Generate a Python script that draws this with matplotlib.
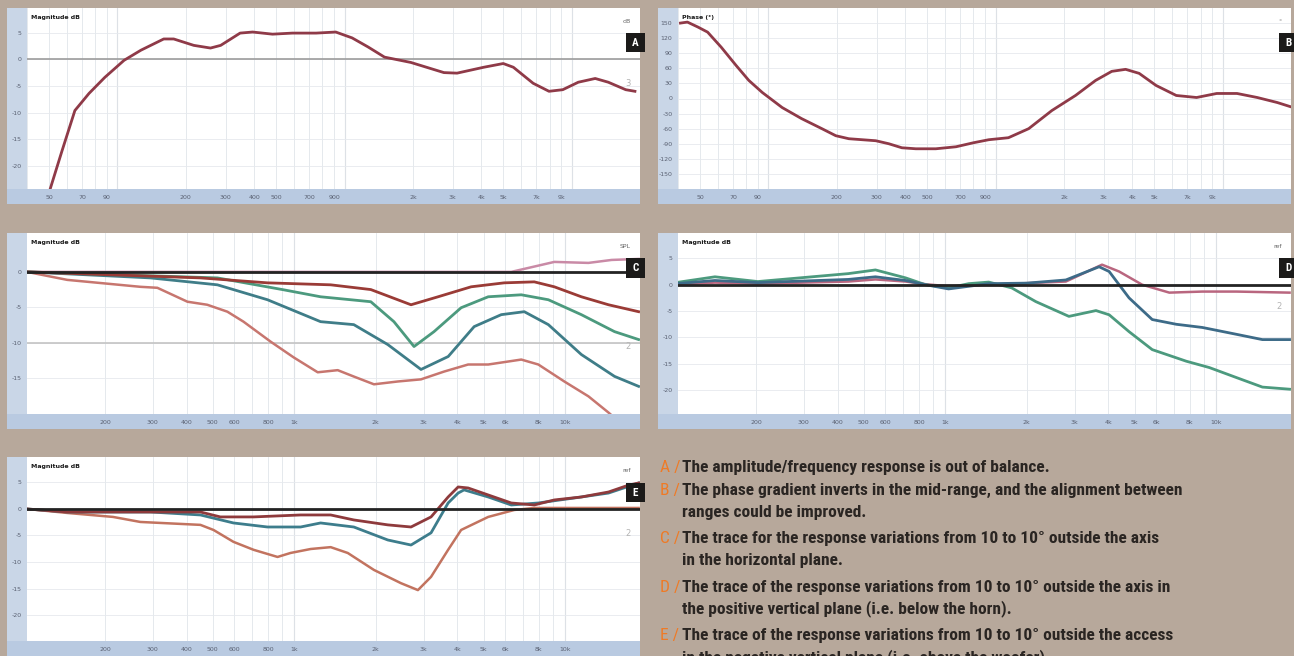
import matplotlib
matplotlib.use('Agg')
import matplotlib.pyplot as plt
from matplotlib import font_manager
from matplotlib.patches import Rectangle
from matplotlib.ticker import LogLocator, NullFormatter

W, H = 1294, 656
BG = '#b7a89b'

# ---- data ----
# A: magnitude response (Hz, dB)
a_freq = [50, 57, 65, 75, 88, 107, 127, 160, 177, 217, 257, 285, 347, 394, 482, 590,
          750, 915, 1080, 1270, 1500, 1960, 2740, 3130, 4100, 5000, 5540, 6770, 7950,
          9140, 10700, 12700, 14500, 17300, 19000]
a_db = [-25.0, -17.2, -9.6, -6.4, -3.4, -0.2, 1.7, 3.8, 3.8, 2.6, 2.1, 2.6, 4.9, 5.1, 4.7, 4.9,
        4.9, 5.1, 4.0, 2.3, 0.4, -0.6, -2.5, -2.6, -1.5, -0.8, -1.5, -4.5, -6.0,
        -5.7, -4.3, -3.6, -4.3, -5.7, -6.0]

# B: phase (Hz, degrees)
b_freq = [41, 44, 49, 54, 62, 72, 82, 94, 115, 140, 172, 198, 226, 297, 339, 387, 446,
          546, 670, 800, 934, 1140, 1400, 1770, 2250, 2760, 3250, 3740, 4290, 5090,
          6250, 7680, 9420, 11570, 14200, 17400, 19800]
b_deg = [150, 152, 142, 132, 102, 66, 36, 12, -18, -40, -60, -74, -80, -84, -90, -98, -100,
         -100, -96, -88, -82, -78, -60, -24, 6, 36, 54, 58, 50, 26,
         6, 2, 10, 10, 2, -8, -16]

# C: horizontal off-axis (dB)
c_red_f = [103, 450, 796, 1362, 1916, 2697, 3395, 4496, 5957, 7690, 9120, 11480, 14460, 18680]
c_red_db = [0, -0.85, -1.55, -1.83, -2.5, -4.65, -3.52, -2.11, -1.55, -1.41, -2.11, -3.52, -4.65, -5.63]
c_green_f = [103, 520, 912, 1250, 1916, 2332, 2767, 3280, 4130, 5200, 6888, 8670, 11480, 15220, 18680]
c_green_db = [0, -0.85, -2.53, -3.52, -4.22, -7.04, -10.56, -8.45, -5.07, -3.52, -3.24, -3.94, -6.05, -8.45, -9.57]
c_teal_f = [103, 294, 520, 796, 1250, 1658, 2214, 2936, 3700, 4614, 5808, 7066, 8670, 11480, 15220, 18680]
c_teal_db = [0, -0.85, -1.83, -3.94, -7.04, -7.46, -10.28, -13.8, -11.97, -7.74, -6.05, -5.63, -7.46, -11.69, -14.78, -16.19]
c_pink_f = [103, 145, 270, 312, 403, 477, 566, 649, 817, 995, 1220, 1446, 1658, 1968, 2412,
            2936, 3572, 4383, 5200, 6888, 7962, 9930, 12190, 14460, 16140]
c_pink_db = [0, -1.13, -2.11, -2.25, -4.22, -4.65, -5.63, -7.04, -9.86, -12.1, -14.2, -13.9, -14.8, -15.9, -15.5,
             -15.2, -14.1, -13.1, -13.1, -12.4, -13.1, -15.5, -17.6, -19.9, -21.5]
c_top_f = [103, 6325, 9120, 12190, 14850, 18680]
c_top_db = [0, 0, 1.41, 1.27, 1.69, 1.83]

# D: positive vertical off-axis (dB)
d_green_f = [101, 141, 203, 438, 552, 713, 845, 1028, 1220, 1446, 1758, 2158, 2860, 3600, 4027,
             4770, 5808, 7762, 9440, 11890, 14820, 18670]
d_green_db = [0.4, 1.5, 0.6, 2.1, 2.8, 1.3, 0, -0.6, 0.2, 0.5, -0.6, -3.2, -6.0, -4.9, -5.7,
              -8.9, -12.3, -14.5, -15.7, -17.6, -19.4, -19.8]
d_teal_f = [101, 141, 203, 438, 552, 713, 845, 1028, 1220, 1446, 2000, 2786, 3697, 4027, 4770,
            5808, 7130, 8890, 11890, 14820, 18670]
d_teal_db = [0.2, 0.8, 0.4, 1.0, 1.5, 0.8, 0, -0.8, -0.3, 0.2, 0.3, 0.9, 3.4, 2.5, -2.5,
             -6.6, -7.5, -8.1, -9.4, -10.4, -10.4]
d_pink_f = [101, 141, 203, 438, 552, 713, 845, 1028, 1446, 2786, 3790, 4383, 5333, 6716, 8890, 11890, 18670]
d_pink_db = [0, 0.4, 0.2, 0.6, 1.0, 0.6, 0.1, -0.3, 0, 0.6, 3.8, 2.5, 0, -1.5, -1.3, -1.3, -1.5]

# E: negative vertical off-axis (dB)
e_red_f = [103, 145, 450, 533, 707, 1055, 1362, 1658, 2214, 2697, 3198, 3698, 4026, 4383,
           5200, 6325, 7690, 9120, 11480, 14460, 17150, 18680]
e_red_db = [0, -0.57, -0.57, -1.5, -1.5, -1.13, -1.13, -2.07, -3.0, -3.4, -1.5, 2.26, 4.15, 3.96,
            2.64, 1.13, 0.75, 1.7, 2.26, 3.2, 4.5, 4.9]
e_teal_f = [103, 145, 294, 450, 596, 796, 1055, 1250, 1658, 2214, 2697, 3198, 3698, 4026, 4234,
            5200, 6325, 7962, 11480, 14460, 18680]
e_teal_db = [0, -0.57, -0.57, -1.13, -2.64, -3.4, -3.4, -2.64, -3.4, -5.85, -6.8, -4.5, 1.13, 3.0, 3.6,
             2.26, 0.75, 1.13, 2.26, 3.0, 4.9]
e_pink_f = [103, 145, 214, 270, 450, 503, 596, 707, 867, 968, 1149, 1362, 1575, 1968, 2477, 2860,
            3198, 3698, 4130, 5200, 6490, 7690, 12190, 18680]
e_pink_db = [0, -0.75, -1.5, -2.45, -3.0, -3.96, -6.2, -7.7, -9.05, -8.3, -7.55, -7.2, -8.3, -11.5, -14.0, -15.3,
             -12.8, -7.7, -3.96, -1.5, -0.19, 0.19, 0.19, 0.19]

ab_ticks = [50, 70, 90, 200, 300, 400, 500, 700, 900, 2000, 3000, 4000, 5000, 7000, 9000]
ab_labels = ['50', '70', '90', '200', '300', '400', '500', '700', '900', '2k', '3k', '4k', '5k', '7k', '9k']
cde_ticks = [200, 300, 400, 500, 600, 800, 1000, 2000, 3000, 4000, 5000, 6000, 8000, 10000]
cde_labels = ['200', '300', '400', '500', '600', '800', '1k', '2k', '3k', '4k', '5k', '6k', '8k', '10k']
db_ticks = [5, 0, -5, -10, -15, -20]
c_ticks = [0, -5, -10, -15]
deg_ticks = [150, 120, 90, 60, 30, 0, -30, -60, -90, -120, -150]

notes = [
    ('A', ['The amplitude/frequency response is out of balance.']),
    ('B', ['The phase gradient inverts in the mid-range, and the alignment between',
           'ranges could be improved.']),
    ('C', ['The trace for the response variations from 10 to 10\u00b0 outside the axis',
           'in the horizontal plane.']),
    ('D', ['The trace of the response variations from 10 to 10\u00b0 outside the axis in',
           'the positive vertical plane (i.e. below the horn).']),
    ('E', ['The trace of the response variations from 10 to 10\u00b0 outside the access',
           'in the negative vertical plane (i.e. above the woofer).']),
]

names = {f.name for f in font_manager.fontManager.ttflist}
cond = next((n for n in ['Liberation Sans Narrow', 'Roboto Condensed', 'Roboto', 'DejaVu Sans'] if n in names), 'DejaVu Sans')

fig = plt.figure(figsize=(W / 100, H / 100), dpi=100, facecolor=BG)


def px_box(x0, y0, x1, y1):
    return [x0 / W, 1 - y1 / H, (x1 - x0) / W, (y1 - y0) / H]


def make_panel(x0, y0, x1, y1, xlim, ylim, xticks, xlabels, yticks, title, corner):
    strip_l, strip_b = 20, 15
    bg = fig.add_axes(px_box(x0, y0, x1, y1))
    bg.set_facecolor('#c9d6e7')
    bg.set_xticks([])
    bg.set_yticks([])
    for s in bg.spines.values():
        s.set_visible(False)
    bg.add_patch(Rectangle((0, 0), 1, strip_b / (y1 - y0), transform=bg.transAxes,
                           facecolor='#b9cae1', edgecolor='none'))
    ax = fig.add_axes(px_box(x0 + strip_l, y0, x1, y1 - strip_b))
    ax.set_facecolor('white')
    ax.set_xscale('log')
    ax.set_xlim(*xlim)
    ax.set_ylim(*ylim)
    ax.set_xticks(xticks)
    ax.set_xticklabels(xlabels)
    ax.xaxis.set_minor_locator(LogLocator(base=10, subs=[1, 2, 3, 4, 5, 6, 7, 8, 9], numticks=20))
    ax.xaxis.set_minor_formatter(NullFormatter())
    ax.set_yticks(yticks)
    ax.set_yticklabels([str(v) for v in yticks])
    ax.tick_params(which='both', length=0, labelsize=4.5, labelcolor='#5a6172')
    ax.tick_params(axis='x', pad=4)
    ax.tick_params(axis='y', pad=4)
    ax.grid(True, which='minor', axis='x', color='#e1e5ea', lw=0.6)
    ax.grid(True, which='major', axis='x', color='#e1e5ea', lw=0.6)
    ax.grid(True, which='major', axis='y', color='#e6e9ee', lw=0.6)
    for d in [100, 1000, 10000]:
        ax.axvline(d, color='#c9ced6', lw=0.8, zorder=1)
    for s in ax.spines.values():
        s.set_visible(False)
    ax.text(0.006, 0.96, title, transform=ax.transAxes, fontsize=4.5, fontweight='bold',
            color='#1a1a1a', va='top')
    ax.text(0.985, 0.94, corner, transform=ax.transAxes, fontsize=4.5, color='#666666',
            ha='right', va='top')
    return ax


def letter_box(x0, y0, x1, y1, letter):
    fig.add_artist(Rectangle((x0 / W, 1 - y1 / H), (x1 - x0) / W, (y1 - y0) / H,
                             transform=fig.transFigure, facecolor='#1b1a19', edgecolor='none', zorder=20))
    fig.text((x0 + x1) / 2 / W, 1 - (y0 + y1) / 2 / H, letter, color='white', fontsize=8,
             fontweight='bold', family=cond, ha='center', va='center', zorder=21)


RED = '#8f3a48'
BLACK = '#232323'

# ---- A ----
ax = make_panel(7, 8, 640, 204, (40, 20000), (-24.3, 9.6), ab_ticks, ab_labels, db_ticks,
                'Magnitude dB', 'dB')
ax.axhline(0, color='#9c9c9c', lw=1.2, zorder=2)
ax.plot(a_freq, a_db, color=RED, lw=2.0, zorder=5)
ax.text(0.985, 0.57, '3', transform=ax.transAxes, fontsize=6, color='#b3b3b3', ha='right')
letter_box(626, 33, 645, 52, 'A')

# ---- B ----
ax = make_panel(658, 8, 1291, 204, (40, 20000), (-180, 180), ab_ticks, ab_labels, deg_ticks,
                'Phase (\u00b0)', '\u00b0')
ax.plot(b_freq, b_deg, color=RED, lw=2.0, zorder=5)
letter_box(1279, 33, 1298, 52, 'B')

# ---- C ----
ax = make_panel(7, 233, 640, 429, (103, 18900), (-20.1, 5.5), cde_ticks, cde_labels, c_ticks,
                'Magnitude dB', 'SPL')
ax.axhline(-10, color='#c4c4c4', lw=1.2, zorder=2)
ax.plot(c_top_f, c_top_db, color='#c98aa6', lw=1.8, zorder=4)
ax.plot(c_pink_f, c_pink_db, color='#c7766f', lw=1.8, zorder=4)
ax.plot(c_teal_f, c_teal_db, color='#3f7d88', lw=2.0, zorder=4)
ax.plot(c_green_f, c_green_db, color='#4c9a7e', lw=2.0, zorder=4)
ax.plot(c_red_f, c_red_db, color='#9a3b36', lw=2.0, zorder=4)
ax.axhline(0, color=BLACK, lw=2.0, zorder=6)
ax.text(0.985, 0.36, '2', transform=ax.transAxes, fontsize=6, color='#b3b3b3', ha='right')
letter_box(626, 258, 645, 278, 'C')

# ---- D ----
ax = make_panel(658, 233, 1291, 429, (103, 18900), (-24.5, 9.8), cde_ticks, cde_labels, db_ticks,
                'Magnitude dB', 'ref')
ax.plot(d_pink_f, d_pink_db, color='#b9667f', lw=1.8, zorder=4)
ax.plot(d_green_f, d_green_db, color='#4c9a7e', lw=2.0, zorder=4)
ax.plot(d_teal_f, d_teal_db, color='#3d6b88', lw=2.0, zorder=4)
ax.axhline(0, color=BLACK, lw=2.0, zorder=6)
ax.text(0.985, 0.58, '2', transform=ax.transAxes, fontsize=6, color='#b3b3b3', ha='right')
letter_box(1279, 258, 1298, 278, 'D')

# ---- E ----
ax = make_panel(7, 457, 640, 656, (103, 18900), (-24.9, 9.8), cde_ticks, cde_labels, db_ticks,
                'Magnitude dB', 'ref')
ax.plot(e_pink_f, e_pink_db, color='#c2735f', lw=1.8, zorder=4)
ax.plot(e_teal_f, e_teal_db, color='#3d7d8c', lw=2.0, zorder=4)
ax.plot(e_red_f, e_red_db, color='#8e3a3c', lw=2.0, zorder=4)
ax.axhline(0, color=BLACK, lw=2.0, zorder=6)
ax.text(0.985, 0.57, '2', transform=ax.transAxes, fontsize=6, color='#b3b3b3', ha='right')
letter_box(626, 483, 645, 502, 'E')

# ---- captions ----
baselines = [[472], [495, 517], [543, 565], [592, 613], [640, 662]]
for (letter, lines), ys in zip(notes, baselines):
    fig.text(660 / W, 1 - ys[0] / H, letter + ' /', color='#ef7a25', fontsize=12.5,
             family=cond, va='baseline', ha='left')
    for line, y in zip(lines, ys):
        fig.text(682 / W, 1 - y / H, line, color='#2a2522', fontsize=12.5, fontweight='bold',
                 family=cond, va='baseline', ha='left')

fig.savefig('out.png', dpi=100, facecolor=BG)
